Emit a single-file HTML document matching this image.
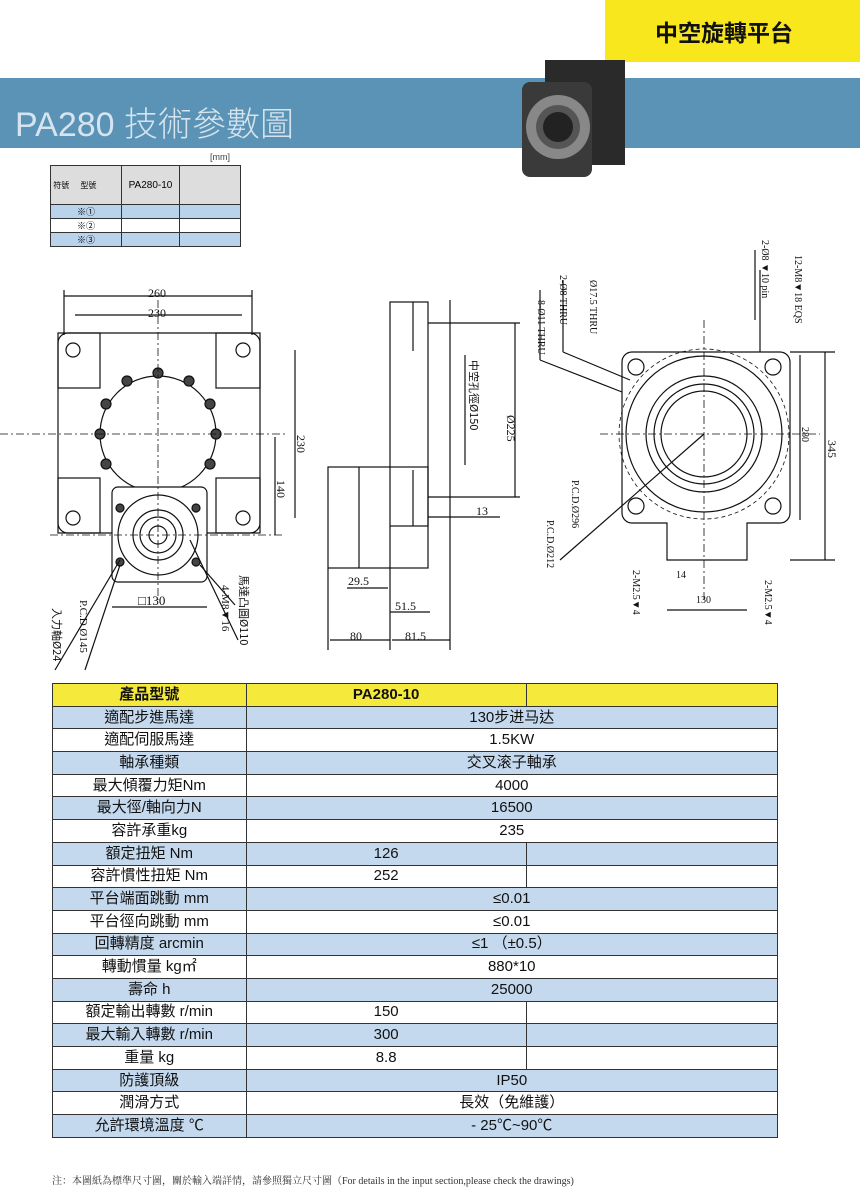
<!DOCTYPE html>
<html><head><meta charset="utf-8"><style>
body{margin:0;width:860px;height:1186px;background:#fff;position:relative;overflow:hidden;font-family:"Liberation Sans","Noto Sans CJK TC",sans-serif}
.abs{position:absolute}
table.sp{position:absolute;left:52px;top:683px;width:726px;border-collapse:collapse;font-size:15px;color:#111}
table.sp td{height:21.7px;border:1px solid #333;padding:0;text-align:center;line-height:20px}
table.sp tr:nth-child(even) td{background:#c5d9ee}
table.sp tr:first-child td{background:#f5ea3c;font-weight:bold}
table.sm{position:absolute;left:50px;top:165px;border-collapse:collapse;font-size:9px}
table.sm td{border:1px solid #333;padding:0;text-align:center}
</style></head><body>
<div class="abs" style="left:605px;top:0;width:255px;height:62px;background:#f8e71c"></div>
<div class="abs" style="left:655px;top:14px;font-size:23px;font-weight:bold;color:#111">中空旋轉平台</div>
<div class="abs" style="left:0;top:78px;width:860px;height:70px;background:#5a93b5"></div>
<div class="abs" style="left:15px;top:97px;font-size:34px;color:#d5e4ee">PA280 <span style="font-family:'Noto Sans CJK TC',sans-serif;font-weight:300">技術參數圖</span></div>
<svg class="abs" style="left:510px;top:52px" width="120" height="135">
<rect x="35" y="8" width="80" height="105" fill="#2a2a2a"/>
<rect x="12" y="30" width="70" height="95" rx="8" fill="#3a3a3a"/>
<circle cx="48" cy="75" r="32" fill="#888"/><circle cx="48" cy="75" r="22" fill="#555"/><circle cx="48" cy="75" r="15" fill="#222"/>
</svg>
<div class="abs" style="left:210px;top:152px;font-size:9px;color:#444">[mm]</div>
<table class="sm"><tr style="height:39px;background:#ddd"><td style="width:70px;text-align:left;font-size:8px">&nbsp;符號 &nbsp;&nbsp;&nbsp;&nbsp;型號</td><td style="width:57px;font-size:10px">PA280-10</td><td style="width:60px"></td></tr>
<tr style="height:10px;background:#b9d3ec"><td>※①</td><td></td><td></td></tr>
<tr style="height:10px"><td>※②</td><td></td><td></td></tr>
<tr style="height:10px;background:#b9d3ec"><td>※③</td><td></td><td></td></tr></table>

<svg class="abs" style="left:0;top:230px" width="860" height="450" font-family="Liberation Serif" font-size="12" fill="none" stroke="#111" stroke-width="1.2">
<g transform="translate(0,-230)">
<rect x="58" y="333" width="202" height="200" rx="10"/>
<rect x="58" y="333" width="42" height="55"/><rect x="216" y="333" width="44" height="55"/>
<rect x="58" y="478" width="42" height="55"/><rect x="216" y="478" width="44" height="55"/>
<circle cx="73" cy="350" r="7"/><circle cx="243" cy="350" r="7"/><circle cx="73" cy="518" r="7"/><circle cx="243" cy="518" r="7"/>
<circle cx="158" cy="434" r="58"/>
<g fill="#444"><circle cx="158" cy="373" r="5"/><circle cx="189" cy="381" r="5"/><circle cx="127" cy="381" r="5"/><circle cx="106" cy="404" r="5"/><circle cx="210" cy="404" r="5"/><circle cx="100" cy="434" r="5"/><circle cx="216" cy="434" r="5"/><circle cx="106" cy="464" r="5"/><circle cx="210" cy="464" r="5"/></g>
<rect x="112" y="487" width="95" height="95" rx="6" fill="#fff"/>
<circle cx="158" cy="535" r="40"/><circle cx="158" cy="535" r="25"/><circle cx="158" cy="535" r="18"/><circle cx="158" cy="535" r="9"/>
<g fill="#444"><circle cx="120" cy="508" r="4"/><circle cx="196" cy="508" r="4"/><circle cx="120" cy="562" r="4"/><circle cx="196" cy="562" r="4"/></g>
<g stroke-dasharray="8 3 2 3" stroke-width="0.8"><line x1="0" y1="434" x2="285" y2="434"/><line x1="158" y1="300" x2="158" y2="600"/><line x1="50" y1="535" x2="285" y2="535"/></g>
<line x1="64" y1="296" x2="252" y2="296"/><line x1="75" y1="315" x2="242" y2="315"/>
<line x1="64" y1="290" x2="64" y2="335"/><line x1="252" y1="290" x2="252" y2="335"/>
<line x1="295" y1="350" x2="295" y2="518"/><line x1="275" y1="437" x2="275" y2="535"/>
<line x1="112" y1="607" x2="207" y2="607"/>
<line x1="55" y1="670" x2="120" y2="560"/><line x1="85" y1="670" x2="120" y2="565"/><line x1="235" y1="605" x2="200" y2="565"/><line x1="238" y1="640" x2="190" y2="540"/>
<rect x="390" y="302" width="38" height="224"/><line x1="413" y1="302" x2="413" y2="351"/><line x1="413" y1="470" x2="413" y2="526"/>
<rect x="328" y="467" width="100" height="101"/><line x1="359" y1="467" x2="359" y2="568"/>
<line x1="428" y1="323" x2="520" y2="323"/><line x1="428" y1="497" x2="520" y2="497"/>
<line x1="515" y1="323" x2="515" y2="497"/><line x1="465" y1="355" x2="465" y2="465"/>
<line x1="428" y1="517" x2="500" y2="517"/>
<line x1="347" y1="588" x2="388" y2="588"/><line x1="390" y1="612" x2="430" y2="612"/><line x1="330" y1="640" x2="390" y2="640"/><line x1="392" y1="640" x2="450" y2="640"/>
<line x1="390" y1="526" x2="390" y2="650"/><line x1="328" y1="568" x2="328" y2="650"/><line x1="450" y1="300" x2="450" y2="650"/>
<path d="M632 352 H780 a10 10 0 0 1 10 10 V513 a10 10 0 0 1 -10 10 H747 V560 H667 V523 H632 a10 10 0 0 1 -10 -10 V362 a10 10 0 0 1 10 -10Z"/>
<circle cx="704" cy="434" r="85" stroke-dasharray="4 3" stroke-width="0.8"/>
<circle cx="704" cy="434" r="78"/><circle cx="704" cy="434" r="58"/><circle cx="704" cy="434" r="50"/><circle cx="704" cy="434" r="43"/>
<circle cx="636" cy="367" r="8"/><circle cx="773" cy="367" r="8"/><circle cx="636" cy="506" r="8"/><circle cx="773" cy="506" r="8"/>
<line x1="600" y1="434" x2="820" y2="434" stroke-dasharray="8 3 2 3" stroke-width="0.8"/><line x1="704" y1="320" x2="704" y2="600" stroke-dasharray="8 3 2 3" stroke-width="0.8"/>
<line x1="790" y1="352" x2="835" y2="352"/><line x1="790" y1="560" x2="835" y2="560"/><line x1="825" y1="352" x2="825" y2="560"/>
<line x1="800" y1="355" x2="800" y2="520"/><line x1="667" y1="610" x2="747" y2="610"/>
<line x1="540" y1="290" x2="540" y2="360"/><line x1="540" y1="360" x2="622" y2="392"/>
<line x1="563" y1="280" x2="563" y2="352"/><line x1="563" y1="352" x2="630" y2="380"/>
<line x1="760" y1="270" x2="760" y2="352"/><line x1="755" y1="250" x2="755" y2="320"/>
<line x1="560" y1="560" x2="704" y2="434"/>
</g>
<g stroke="none" fill="#111">
<text x="148" y="67">260</text><text x="148" y="87">230</text>
<text x="138" y="375" font-size="13">□130</text>
<text x="348" y="355">29.5</text><text x="395" y="380">51.5</text><text x="350" y="410">80</text><text x="405" y="410">81.5</text>
<text x="476" y="285">13</text><text x="676" y="348" font-size="10">14</text><text x="696" y="373" font-size="10">130</text>
<text transform="translate(297,205) rotate(90)">230</text><text transform="translate(277,250) rotate(90)">140</text>
<text transform="translate(507,185) rotate(90)">Ø225</text>
<text transform="translate(470,130) rotate(90)" font-family="Noto Sans CJK TC" font-size="11">中空孔徑Ø150</text>
<text transform="translate(802,197) rotate(90)" font-size="10">280</text><text transform="translate(828,210) rotate(90)">345</text>
<text transform="translate(240,345) rotate(90)" font-family="Noto Sans CJK TC" font-size="11">馬達凸圓Ø110</text>
<text transform="translate(222,355) rotate(90)" font-size="11">4-M8▼16</text>
<text transform="translate(80,370) rotate(90)" font-size="11">P.C.D.Ø145</text>
<text transform="translate(53,378) rotate(90)" font-family="Noto Sans CJK TC" font-size="11">入力軸Ø24</text>
<text transform="translate(572,250) rotate(90)" font-size="10">P.C.D.Ø296</text><text transform="translate(547,290) rotate(90)" font-size="10">P.C.D.Ø212</text>
<text transform="translate(633,340) rotate(90)" font-size="10">2-M2.5▼4</text><text transform="translate(765,350) rotate(90)" font-size="10">2-M2.5▼4</text>
<text transform="translate(538,70) rotate(90)" font-size="10">8-Ø11 THRU</text><text transform="translate(560,45) rotate(90)" font-size="10">2-Ø8 THRU</text>
<text transform="translate(590,50) rotate(90)" font-size="10">Ø17.5 THRU</text>
<text transform="translate(762,10) rotate(90)" font-size="10">2-Ø8 ▼10 pin</text><text transform="translate(795,25) rotate(90)" font-size="10">12-M8▼18 EQS</text>
</g></svg>

<table class="sp">
<tr><td style="width:193px">產品型號</td><td style="width:280px">PA280-10</td><td style="width:251px"></td></tr>
<tr><td>適配步進馬達</td><td colspan="2">130步进马达</td></tr>
<tr><td>適配伺服馬達</td><td colspan="2">1.5KW</td></tr>
<tr><td>軸承種類</td><td colspan="2">交叉滚子軸承</td></tr>
<tr><td>最大傾覆力矩Nm</td><td colspan="2">4000</td></tr>
<tr><td>最大徑/軸向力N</td><td colspan="2">16500</td></tr>
<tr><td>容許承重kg</td><td colspan="2">235</td></tr>
<tr><td>額定扭矩 Nm</td><td>126</td><td></td></tr>
<tr><td>容許慣性扭矩 Nm</td><td>252</td><td></td></tr>
<tr><td>平台端面跳動 mm</td><td colspan="2">≤0.01</td></tr>
<tr><td>平台徑向跳動 mm</td><td colspan="2">≤0.01</td></tr>
<tr><td>回轉精度 arcmin</td><td colspan="2">≤1 （±0.5）</td></tr>
<tr><td>轉動慣量 kg㎡</td><td colspan="2">880*10</td></tr>
<tr><td>壽命 h</td><td colspan="2">25000</td></tr>
<tr><td>額定輸出轉數 r/min</td><td>150</td><td></td></tr>
<tr><td>最大輸入轉數 r/min</td><td>300</td><td></td></tr>
<tr><td>重量 kg</td><td>8.8</td><td></td></tr>
<tr><td>防護頂級</td><td colspan="2">IP50</td></tr>
<tr><td>潤滑方式</td><td colspan="2">長效（免維護）</td></tr>
<tr><td>允許環境溫度 ℃</td><td colspan="2">- 25℃~90℃</td></tr>
</table>
<div class="abs" style="left:52px;top:1172px;font-size:10px;color:#333;font-family:'Liberation Serif','Noto Serif CJK SC',serif">注：本圖紙為標準尺寸圖，關於輸入端詳情，請參照獨立尺寸圖（For details in the input section,please check the drawings)</div>
</body></html>
